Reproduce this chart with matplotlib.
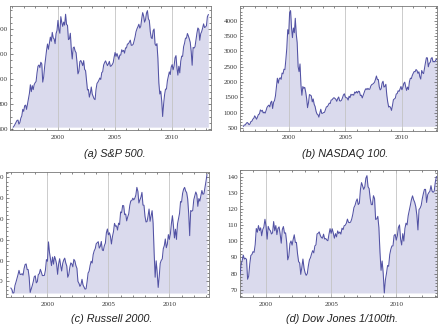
import numpy as np
import pandas as pd
import matplotlib
matplotlib.use("Agg")
import matplotlib.pyplot as plt
from matplotlib.ticker import MultipleLocator, AutoMinorLocator

# monthly closes (approx)
sp500 = [615, 625, 640, 654, 669, 671, 639, 652, 687, 705, 757, 741,
         786, 791, 757, 801, 848, 885, 954, 899, 947, 915, 955, 970,
         980, 1049, 1102, 1112, 1091, 1134, 1121, 975, 1017, 1099, 1164, 1229,
         1280, 1238, 1286, 1335, 1302, 1373, 1329, 1320, 1283, 1363, 1389, 1469,
         1394, 1366, 1499, 1452, 1421, 1455, 1431, 1518, 1437, 1429, 1315, 1320,
         1366, 1240, 1160, 1249, 1256, 1224, 1211, 1134, 1041, 1060, 1139, 1148,
         1130, 1107, 1147, 1077, 1067, 990, 912, 916, 855, 886, 936, 880,
         860, 841, 835, 917, 964, 975, 990, 1008, 996, 1051, 1058, 1112,
         1131, 1145, 1126, 1107, 1121, 1141, 1102, 1104, 1115, 1130, 1174, 1212,
         1181, 1204, 1181, 1157, 1192, 1191, 1234, 1220, 1229, 1207, 1249, 1248,
         1280, 1281, 1295, 1311, 1270, 1270, 1277, 1304, 1336, 1378, 1401, 1418,
         1438, 1407, 1421, 1482, 1531, 1503, 1455, 1474, 1527, 1547, 1481, 1468,
         1379, 1331, 1323, 1386, 1400, 1280, 1267, 1283, 1165, 969, 880, 903,
         826, 700, 798, 873, 919, 919, 987, 1021, 1057, 1036, 1096, 1115,
         1074, 1104, 1169, 1187, 1089, 1031, 1102, 1049, 1141, 1183, 1181, 1258,
         1286, 1327, 1326, 1364, 1345, 1321, 1292, 1219, 1110, 1253, 1247, 1258,
         1312, 1366, 1408, 1398, 1310, 1362, 1379, 1407, 1441, 1412, 1416, 1426,
         1498, 1515]

nasdaq100 = [560, 606, 603, 655, 686, 660, 614, 640, 717, 727, 794, 821,
             903, 849, 793, 876, 949, 961, 1096, 1053, 1084, 998, 1023, 990,
             1072, 1177, 1220, 1251, 1192, 1337, 1380, 1141, 1345, 1400, 1557, 1836,
             2128, 1967, 2106, 2142, 2090, 2296, 2271, 2421, 2407, 2733, 3104, 3708,
             3570, 4267, 4330, 3774, 3450, 3764, 3610, 4080, 3571, 3283, 2506, 2342,
             2593, 1908, 1573, 1855, 1799, 1830, 1683, 1469, 1168, 1329, 1596, 1577,
             1551, 1359, 1452, 1278, 1207, 1052, 963, 942, 860, 990, 1116, 984,
             985, 1010, 1018, 1106, 1197, 1201, 1254, 1315, 1303, 1416, 1424, 1468,
             1493, 1470, 1439, 1375, 1466, 1517, 1394, 1383, 1412, 1485, 1581, 1621,
             1519, 1492, 1483, 1415, 1542, 1494, 1605, 1576, 1601, 1574, 1680, 1645,
             1697, 1645, 1705, 1693, 1563, 1575, 1485, 1573, 1654, 1746, 1790, 1757,
             1798, 1763, 1772, 1870, 1919, 1935, 1959, 1999, 2092, 2200, 2083, 2085,
             1847, 1747, 1781, 1967, 2030, 1837, 1865, 1930, 1575, 1348, 1188, 1212,
             1171, 1080, 1238, 1427, 1454, 1478, 1613, 1627, 1718, 1699, 1774, 1860,
             1752, 1830, 1957, 2000, 1850, 1731, 1840, 1760, 2021, 2128, 2115, 2217,
             2287, 2346, 2339, 2411, 2378, 2286, 2338, 2176, 2100, 2381, 2306, 2278,
             2460, 2640, 2795, 2789, 2500, 2616, 2640, 2772, 2799, 2660, 2677, 2660,
             2731, 2738, 2800]

russell2000 = [368, 361, 344, 345, 380, 396, 414, 432, 453, 434, 433, 437,
               430, 462, 481, 484, 457, 457, 419, 347, 363, 379, 398, 422,
               427, 393, 398, 433, 437, 458, 444, 428, 428, 429, 454, 505,
               497, 590, 539, 506, 476, 517, 483, 520, 505, 483, 434, 484,
               509, 476, 450, 486, 503, 512, 489, 474, 420, 433, 467, 489,
               484, 470, 506, 498, 476, 463, 400, 391, 376, 385, 410, 383,
               373, 363, 364, 398, 440, 449, 477, 497, 488, 529, 547, 557,
               581, 586, 591, 560, 568, 592, 551, 548, 572, 584, 634, 652,
               624, 634, 616, 580, 616, 639, 679, 665, 667, 647, 680, 673,
               734, 730, 765, 764, 721, 724, 691, 710, 725, 764, 787, 788,
               800, 792, 800, 815, 852, 833, 777, 792, 805, 828, 767, 766,
               713, 686, 687, 714, 748, 689, 714, 740, 679, 538, 420, 499,
               443, 371, 423, 487, 501, 508, 557, 572, 604, 562, 579, 625,
               602, 628, 679, 716, 666, 609, 651, 602, 676, 703, 727, 784,
               781, 823, 843, 852, 835, 827, 797, 727, 620, 741, 737, 741,
               792, 810, 830, 817, 761, 798, 786, 812, 837, 819, 821, 849,
               880, 913]

dow_100 = [79.1, 85.5, 88.0, 91.4, 89.0, 89.5, 88.8, 76.5, 78.4, 85.9, 91.2, 91.8,
           93.6, 93.1, 97.9, 107.9, 105.6, 109.7, 106.6, 108.3, 103.4, 107.3, 108.8, 113.6,
           109.4, 101.3, 109.2, 107.3, 106.5, 104.5, 105.2, 112.2, 106.5, 109.7, 104.1, 107.9,
           108.9, 104.5, 98.8, 107.3, 109.1, 105.0, 105.2, 99.5, 88.5, 90.8, 98.5, 100.2,
           97.6, 101.1, 104.0, 99.3, 99.3, 92.4, 87.4, 86.6, 79.5, 84.0, 89.0, 83.4,
           80.5, 78.9, 79.9, 84.8, 88.5, 89.9, 92.3, 94.2, 92.8, 97.1, 97.8, 104.5,
           104.9, 105.8, 103.6, 102.3, 101.9, 104.4, 101.4, 101.7, 100.8, 100.3, 104.3, 107.8,
           104.9, 107.7, 105.0, 101.9, 104.7, 102.7, 106.4, 104.8, 105.7, 104.4, 108.1, 107.2,
           109.6, 109.9, 111.1, 113.7, 111.7, 111.5, 111.9, 113.8, 116.8, 120.8, 122.2, 124.6,
           126.2, 122.7, 123.5, 132.1, 136.3, 134.1, 132.1, 133.6, 139.0, 140.6, 133.7, 132.6,
           126.5, 122.7, 122.6, 128.2, 126.4, 113.5, 113.8, 115.4, 108.5, 93.3, 82.0, 87.8,
           80.0, 68.0, 76.1, 80.1, 85.0, 84.5, 91.7, 95.0, 97.1, 97.1, 103.5, 104.3,
           100.7, 103.3, 108.6, 110.1, 101.4, 97.7, 104.7, 100.1, 107.9, 111.2, 110.1, 115.8,
           118.9, 122.3, 125.8, 128.1, 125.7, 124.1, 121.4, 116.1, 107.0, 119.6, 120.5, 122.2,
           126.3, 129.5, 132.1, 132.1, 124.0, 128.8, 130.1, 130.9, 134.4, 131.0, 130.3, 131.0,
           136.6, 140.0]

captions = ["(a) S&P 500.", "(b) NASDAQ 100.", "(c) Russell 2000.", "(d) Dow Jones 1/100th."]


def decimal_years(start, n):
    d = pd.date_range(start, periods=n, freq="MS")
    return d.year + (d.month - 1) / 12.0


W, H = 444, 329
fig = plt.figure(figsize=(W / 100, H / 100), dpi=100)

LINE = "#5252a4"
FILL = "#dadaed"

# (series, start, xlim, ylim, major, minor, frame px [left, right, top, bottom], caption xy px)
panels = [
    (sp500, "1996-02-01", (1995.8, 2013.4), (592, 1584), 200, 4, (10, 211, 6, 130), (115, 154)),
    (nasdaq100, "1996-01-01", (1995.7, 2013.1), (425, 4480), 500, 5, (240, 437, 6, 130.5), (345, 154)),
    (russell2000, "1997-01-01", (1996.6, 2013.25), (325, 926), 100, 5, (6, 209, 172, 297), (112, 319)),
    (dow_100, "1998-01-01", (1998.0, 2013.13), (65.5, 144.1), 10, 5, (240, 437, 170, 297), (342, 319)),
]

for (vals, start, xl, yl, maj, mnr, (l, r, t, b), (cx, cy)), cap in zip(panels, captions):
    ax = fig.add_axes([l / W, 1 - b / H, (r - l) / W, (b - t) / H])
    x = decimal_years(start, len(vals))
    y = np.array(vals, dtype=float)
    ax.fill_between(x, y, y.min(), color=FILL, lw=0, zorder=1)
    for g in (2000, 2005, 2010):
        ax.axvline(g, color="#c4c4c4", lw=0.6, zorder=2)
    ax.plot(x, y, color=LINE, lw=0.75, zorder=3)
    ax.set_xlim(*xl)
    ax.set_ylim(*yl)
    ax.xaxis.set_major_locator(MultipleLocator(5))
    ax.xaxis.set_minor_locator(MultipleLocator(1))
    ax.yaxis.set_major_locator(MultipleLocator(maj))
    ax.yaxis.set_minor_locator(AutoMinorLocator(mnr))
    ax.tick_params(which="both", direction="in", top=True, right=True,
                   color="#555555", width=0.5, labelsize=5, pad=1.5,
                   labelcolor="#333333")
    ax.tick_params(axis="x", which="major", pad=3.5)
    ax.tick_params(which="major", length=2.5)
    ax.tick_params(which="minor", length=1.3)
    for lab in ax.get_xticklabels() + ax.get_yticklabels():
        lab.set_family("Liberation Serif")
    for s in ax.spines.values():
        s.set_color("#777777")
        s.set_linewidth(0.6)
    fig.text(cx / W, 1 - cy / H, cap, ha="center", va="center",
             family="Liberation Sans", style="italic", fontsize=7.8, color="#222222")

fig.savefig("out.png", dpi=100)
